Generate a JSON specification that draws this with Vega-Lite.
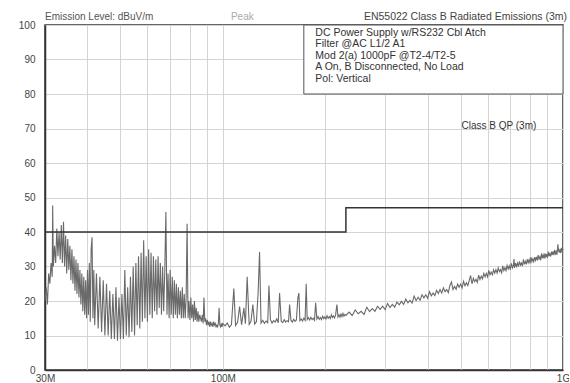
{
  "$schema": "https://vega.github.io/schema/vega-lite/v6.json",
  "width": 518,
  "height": 345,
  "autosize": {"type": "none"},
  "padding": {"left": 45, "top": 25, "right": 6, "bottom": 13},
  "background": "white",
  "config": {
    "view": {"stroke": "#333", "strokeWidth": 1.5},
    "font": "Liberation Sans",
    "axis": {
      "labelFont": "Liberation Sans",
      "labelFontSize": 10,
      "labelColor": "#444",
      "gridColor": "#d4d4d4",
      "gridWidth": 1,
      "domainColor": "#333",
      "domainWidth": 1.5,
      "ticks": false,
      "title": null
    }
  },
  "encoding": {
    "x": {"field": "f", "type": "quantitative", "scale": {"type": "log", "domain": [30, 1000], "nice": false},
      "axis": {"values": [30,40,50,60,70,80,90,100,200,300,400,500,600,700,800,900,1000], "tickCount": 20,
        "labelExpr": "datum.value == 30 ? '30M' : datum.value == 100 ? '100M' : datum.value == 1000 ? '1G' : ''",
        "labelPadding": 3, "labelOverlap": false, "labelFlush": false}},
    "y": {"field": "v", "type": "quantitative", "scale": {"domain": [0, 100], "nice": false},
      "axis": {"values": [0,10,20,30,40,50,60,70,80,90,100], "tickCount": 12, "labelOverlap": false, "labelPadding": 10, "labelFlush": false}}
  },
  "datasets": {
    "trace": [
      {"f":30,"v":20},{"f":30.25,"v":24},{"f":30.5,"v":19},{"f":30.75,"v":28},{"f":31,"v":25},{"f":31.25,"v":31},{"f":31.5,"v":27},{"f":31.6,"v":47.7},{"f":31.75,"v":30},{"f":32,"v":36},{"f":32.25,"v":31},{"f":32.5,"v":41},{"f":32.75,"v":33},{"f":33,"v":40},{"f":33.25,"v":32},{"f":33.5,"v":42},{"f":33.75,"v":31},{"f":34,"v":43},{"f":34.25,"v":30},{"f":34.5,"v":39},{"f":34.75,"v":28},{"f":35,"v":38},{"f":35.25,"v":29},{"f":35.5,"v":36},{"f":35.75,"v":26},{"f":36,"v":35},{"f":36.25,"v":25},{"f":36.5,"v":33},{"f":36.75,"v":23},{"f":37,"v":32},{"f":37.25,"v":22},{"f":37.5,"v":31},{"f":37.75,"v":21},{"f":38,"v":29},{"f":38.25,"v":19},{"f":38.5,"v":28},{"f":38.75,"v":17},{"f":39,"v":27},{"f":39.25,"v":16},{"f":39.5,"v":26},{"f":39.75,"v":15},{"f":40,"v":29},{"f":40.25,"v":16},{"f":40.5,"v":31},{"f":40.75,"v":14},{"f":41,"v":35},{"f":41.25,"v":38.5},{"f":41.5,"v":15},{"f":41.75,"v":29},{"f":42,"v":13},
      {"f":42.5,"v":28},{"f":43,"v":12},{"f":43.5,"v":27},{"f":44,"v":11},{"f":44.5,"v":26},{"f":45,"v":10},{"f":45.5,"v":25},{"f":46,"v":10},{"f":46.5,"v":23},{"f":47,"v":9},{"f":47.5,"v":22},{"f":48,"v":9},{"f":48.5,"v":24},{"f":49,"v":8.5},{"f":49.5,"v":21},{"f":50,"v":9},{"f":50.5,"v":22},{"f":51,"v":9},{"f":51.5,"v":29},{"f":52,"v":10},{"f":52.5,"v":24},{"f":53,"v":9.5},{"f":53.5,"v":27},{"f":54,"v":11},{"f":54.5,"v":30},{"f":55,"v":10},{"f":55.5,"v":31},{"f":56,"v":13},{"f":56.5,"v":33},{"f":57,"v":12},{"f":57.5,"v":34},{"f":58,"v":14},{"f":58.5,"v":37.6},{"f":59,"v":15},{"f":59.5,"v":33},{"f":60,"v":14},{"f":60.5,"v":35},{"f":61,"v":16},{"f":61.5,"v":34},{"f":62,"v":15},{"f":62.5,"v":33},{"f":63,"v":17},{"f":63.5,"v":32},{"f":64,"v":16},{"f":64.5,"v":33},{"f":65,"v":18},{"f":65.5,"v":31},{"f":66,"v":16},{"f":66.5,"v":30},{"f":67,"v":17},{"f":67.5,"v":29},{"f":68,"v":45.8},{"f":68.5,"v":16},{"f":69,"v":28},{"f":69.5,"v":15},{"f":70,"v":29},{"f":70.5,"v":16},{"f":71,"v":27},{"f":71.5,"v":15},{"f":72,"v":26},{"f":72.5,"v":16},{"f":73,"v":25},{"f":73.5,"v":15},{"f":74,"v":24},{"f":74.5,"v":16},{"f":75,"v":23},{"f":75.5,"v":15},{"f":76,"v":24},{"f":76.5,"v":15},{"f":77,"v":22},{"f":77.5,"v":15},{"f":78,"v":21},{"f":78.5,"v":42.4},{"f":79,"v":15},{"f":79.5,"v":20},{"f":80,"v":14.5},{"f":80.5,"v":21},{"f":81,"v":15},{"f":81.5,"v":19},{"f":82,"v":14},{"f":82.5,"v":20},{"f":83,"v":14.5},{"f":83.5,"v":18},{"f":84,"v":14},{"f":84.5,"v":17},{"f":85,"v":14},{"f":85.5,"v":16},{"f":86,"v":15},{"f":86.5,"v":14},{"f":87,"v":16},{"f":87.5,"v":13.5},{"f":88,"v":21},{"f":88.5,"v":14},{"f":89,"v":15},{"f":89.5,"v":13},{"f":90,"v":14.5},{"f":90.5,"v":13},{"f":91,"v":14},{"f":91.5,"v":12.5},{"f":92,"v":14},{"f":92.5,"v":13},{"f":93,"v":13.5},{"f":93.5,"v":12.5},{"f":94,"v":14},{"f":94.5,"v":13},{"f":95,"v":13.5},{"f":95.5,"v":12.5},{"f":96,"v":13},{"f":96.5,"v":12.5},{"f":97,"v":13.5},{"f":97.5,"v":18},{"f":98,"v":13},{"f":98.5,"v":12.5},{"f":99,"v":13.5},{"f":99.5,"v":12.5},{"f":100,"v":13.5},
      {"f":101.5,"v":12.8},{"f":103,"v":13.6},{"f":104.5,"v":12.4},{"f":106,"v":13.2},{"f":107.7,"v":23.6},{"f":109,"v":12.9},{"f":110.5,"v":13.8},{"f":112,"v":18.4},{"f":113.5,"v":13.1},{"f":115.3,"v":18},{"f":116.5,"v":13.4},{"f":117.9,"v":27},{"f":119.5,"v":13.2},{"f":121,"v":14.1},{"f":122.5,"v":19},{"f":124,"v":13.3},{"f":125.5,"v":14},{"f":127,"v":22.6},{"f":128.2,"v":34.2},{"f":129.5,"v":13.6},{"f":131,"v":14.4},{"f":132.5,"v":13.5},{"f":134,"v":14.2},{"f":135.5,"v":13.7},{"f":136.6,"v":24.5},{"f":138,"v":14.6},{"f":139.5,"v":13.6},{"f":141,"v":14.3},{"f":142.5,"v":13.9},{"f":144,"v":14.8},{"f":145.5,"v":13.7},{"f":146.8,"v":22.3},{"f":148.5,"v":14.1},{"f":150,"v":13.8},{"f":151.5,"v":14.6},{"f":153,"v":13.9},{"f":154.5,"v":14.3},{"f":156,"v":14},{"f":157.1,"v":19},{"f":158.5,"v":14.5},{"f":160,"v":13.9},{"f":161.5,"v":14.7},{"f":163,"v":14.1},{"f":164.5,"v":14.5},{"f":166.2,"v":21},{"f":167.3,"v":22.3},{"f":168.5,"v":14.3},{"f":170,"v":14.8},{"f":171.5,"v":14.2},{"f":173,"v":15},{"f":174.5,"v":14.4},{"f":175.8,"v":25},{"f":177,"v":14.6},{"f":178.5,"v":15.2},{"f":180,"v":14.5},{"f":181.5,"v":15.3},{"f":183,"v":14.6},{"f":184.5,"v":15},{"f":186,"v":14.4},{"f":187.4,"v":19.5},{"f":189,"v":14.8},{"f":190.5,"v":15.5},{"f":192,"v":14.7},{"f":193.5,"v":15.2},{"f":195,"v":14.6},{"f":196.5,"v":15.6},{"f":198,"v":14.9},{"f":199.5,"v":15.4},{"f":201,"v":14.8},{"f":202.5,"v":15.7},{"f":204,"v":15},{"f":205.5,"v":15.5},{"f":207,"v":14.9},{"f":208.5,"v":16},{"f":210,"v":15.2},{"f":211.5,"v":15.7},{"f":213,"v":15.1},{"f":214.5,"v":15.9},{"f":216.4,"v":19},{"f":218,"v":15.4},{"f":219.5,"v":16},{"f":221,"v":15.3},{"f":222.5,"v":16.2},{"f":224,"v":15.5},{"f":225.5,"v":16.4},{"f":227,"v":15.6},{"f":228.5,"v":16.1},{"f":230,"v":15.8},
      {"f":235,"v":16.8},{"f":240,"v":15.8},{"f":245,"v":17.4},{"f":250,"v":16.3},{"f":255,"v":17},{"f":260,"v":16.1},{"f":265,"v":18.2},{"f":270,"v":16.9},{"f":275,"v":17.8},{"f":280,"v":17},{"f":285,"v":18.5},{"f":290,"v":17.6},{"f":295,"v":18.5},{"f":300,"v":17.5},{"f":305,"v":19.3},{"f":310,"v":18.1},{"f":315,"v":19},{"f":320,"v":18.2},{"f":325,"v":19.7},{"f":330,"v":18.9},{"f":335,"v":19.9},{"f":340,"v":19},{"f":345,"v":20.6},{"f":350,"v":19.5},{"f":355,"v":20.2},{"f":360,"v":19.4},{"f":365,"v":21.4},{"f":370,"v":20.1},{"f":375,"v":21.1},{"f":380,"v":20.2},{"f":385,"v":21.8},{"f":390,"v":20.9},{"f":395,"v":21.8},{"f":400,"v":20.8},{"f":405,"v":22.7},{"f":410,"v":21.5},{"f":415,"v":22.3},{"f":420,"v":21.6},{"f":425,"v":23.1},{"f":430,"v":22.2},{"f":435,"v":23.3},{"f":440,"v":22.3},{"f":445,"v":23.8},{"f":450,"v":22.7},{"f":455,"v":23.3},{"f":460,"v":22.4},{"f":465,"v":24.5},{"f":470,"v":25.5},{"f":475,"v":23.3},{"f":480,"v":24.2},{"f":485,"v":23.4},{"f":490,"v":24.9},{"f":495,"v":24},{"f":500,"v":24.9},{"f":505,"v":23.8},{"f":510,"v":25.7},{"f":515,"v":24.4},{"f":520,"v":25.3},{"f":525,"v":24.5},{"f":530,"v":25.9},{"f":535,"v":27.4},{"f":540,"v":25},{"f":545,"v":26.6},{"f":550,"v":25.6},{"f":555,"v":26.3},{"f":560,"v":25.4},{"f":565,"v":27.5},{"f":570,"v":26.2},{"f":575,"v":27.2},{"f":580,"v":26.4},{"f":585,"v":28},{"f":590,"v":27},{"f":595,"v":28},{"f":600,"v":27},{"f":605,"v":28.9},{"f":610,"v":27.6},{"f":615,"v":28.4},{"f":620,"v":27.6},{"f":625,"v":29},{"f":630,"v":28.1},{"f":635,"v":29.1},{"f":640,"v":28.1},{"f":645,"v":29.6},{"f":650,"v":28.5},{"f":655,"v":29.1},{"f":660,"v":28.2},{"f":665,"v":30.2},{"f":670,"v":28.8},{"f":675,"v":29.7},{"f":680,"v":28.8},{"f":685,"v":30.3},{"f":690,"v":29.3},{"f":695,"v":30.2},{"f":700,"v":29.1},{"f":705,"v":30.9},{"f":710,"v":29.6},{"f":715,"v":30.4},{"f":718,"v":32.2},{"f":720,"v":29.6},{"f":725,"v":31},{"f":730,"v":30},{"f":735,"v":31},{"f":740,"v":30},{"f":745,"v":31.5},{"f":750,"v":30.4},{"f":755,"v":31},{"f":760,"v":30.1},{"f":765,"v":32.1},{"f":770,"v":30.6},{"f":775,"v":31.5},{"f":780,"v":30.6},{"f":785,"v":32.1},{"f":790,"v":31.1},{"f":795,"v":32},{"f":800,"v":30.9},{"f":805,"v":32.7},{"f":810,"v":31.4},{"f":815,"v":32.2},{"f":820,"v":31.4},{"f":825,"v":32.7},{"f":830,"v":31.8},{"f":835,"v":32.8},{"f":840,"v":31.8},{"f":845,"v":33.3},{"f":850,"v":32.2},{"f":855,"v":32.8},{"f":860,"v":31.8},{"f":865,"v":33.8},{"f":870,"v":32.4},{"f":875,"v":33.3},{"f":880,"v":32.3},{"f":885,"v":33.8},{"f":890,"v":32.8},{"f":895,"v":33.6},{"f":900,"v":32.5},{"f":905,"v":34.3},{"f":910,"v":33},{"f":915,"v":33.7},{"f":920,"v":32.9},{"f":925,"v":34.3},{"f":930,"v":33.4},{"f":935,"v":34.4},{"f":940,"v":33.3},{"f":945,"v":34.8},{"f":950,"v":33.7},{"f":955,"v":34.3},{"f":960,"v":33.4},{"f":966,"v":36.4},{"f":970,"v":34.7},{"f":975,"v":34},{"f":980,"v":35.1},{"f":985,"v":33.9},{"f":990,"v":35.4},{"f":995,"v":34.4},{"f":1000,"v":35.1}
    ],
    "limit": [
      {"f":30,"v":40,"o":1},{"f":230,"v":40,"o":2},{"f":230,"v":47,"o":3},{"f":1000,"v":47,"o":4}
    ],
    "box": [{"f":173,"f2":1000,"v":80,"v2":100}],
    "notes": [
      {"f":187,"v":97.8,"t":"DC Power Supply  w/RS232 Cbl Atch"},
      {"f":187,"v":94.4,"t":"Filter @AC L1/2 A1"},
      {"f":187,"v":91.1,"t":"Mod 2(a) 1000pF @T2-4/T2-5"},
      {"f":187,"v":87.7,"t":"A On, B Disconnected,  No Load"},
      {"f":187,"v":84.4,"t":"Pol: Vertical"}
    ],
    "headLeft": [{"f":30,"v":101.4,"t":"Emission Level: dBuV/m"}],
    "headPeak": [{"f":105.6,"v":101.4,"t":"Peak"}],
    "headRight": [{"f":1000,"v":101.4,"t":"EN55022 Class B Radiated Emissions (3m)"}],
    "limitLabel": [{"f":503,"v":70.7,"t":"Class B QP (3m)"}]
  },
  "layer": [
    {
      "data": {"name": "box"},
      "mark": {"type": "rect", "fill": "white", "stroke": "#555", "strokeWidth": 1},
      "encoding": {
        "x2": {"field": "f2"},
        "y2": {"field": "v2"}
      }
    },
    {
      "data": {"name": "trace"},
      "mark": {"type": "line", "color": "#6a6a6a", "strokeWidth": 1.1}
    },
    {
      "data": {"name": "limit"},
      "mark": {"type": "line", "color": "#333", "strokeWidth": 1.5},
      "encoding": {
        "order": {"field": "o", "type": "quantitative"}
      }
    },
    {
      "data": {"name": "notes"},
      "mark": {"type": "text", "align": "left", "baseline": "middle", "fontSize": 10.5, "color": "#333", "font": "Liberation Sans"},
      "encoding": {"text": {"field": "t"}}
    },
    {
      "data": {"name": "limitLabel"},
      "mark": {"type": "text", "align": "left", "baseline": "middle", "fontSize": 10, "color": "#333", "font": "Liberation Sans"},
      "encoding": {"text": {"field": "t"}}
    },
    {
      "data": {"name": "headLeft"},
      "mark": {"type": "text", "align": "left", "baseline": "alphabetic", "fontSize": 10, "color": "#555", "font": "Liberation Sans", "clip": false},
      "encoding": {"text": {"field": "t"}}
    },
    {
      "data": {"name": "headPeak"},
      "mark": {"type": "text", "align": "left", "baseline": "alphabetic", "fontSize": 10, "color": "#aaa", "font": "Liberation Sans", "clip": false},
      "encoding": {"text": {"field": "t"}}
    },
    {
      "data": {"name": "headRight"},
      "mark": {"type": "text", "align": "right", "baseline": "alphabetic", "fontSize": 10.5, "color": "#444", "font": "Liberation Sans", "clip": false, "dx": 4},
      "encoding": {"text": {"field": "t"}}
    }
  ]
}
